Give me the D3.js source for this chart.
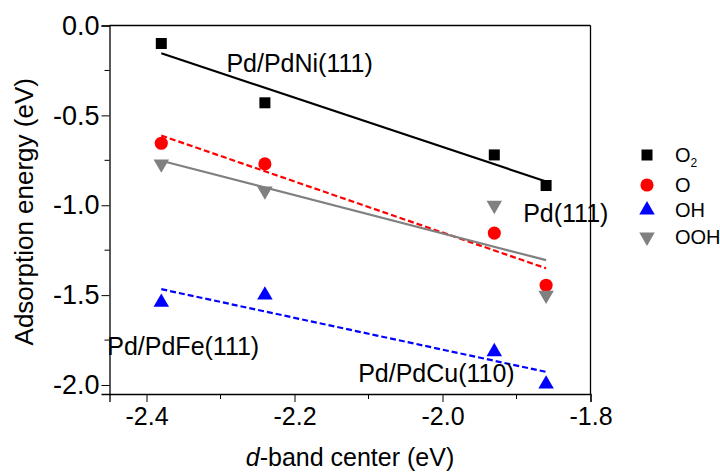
<!DOCTYPE html>
<html>
<head>
<meta charset="utf-8">
<script src="https://cdn.jsdelivr.net/npm/d3@7"></script>
<style>
  body { margin: 0; background: #fff; }
  svg { display: block; font-family: Arial, "Liberation Sans", sans-serif; }
</style>
</head>
<body>
<svg id="chart" width="720" height="472"></svg>
<script>
// ---- data ----
const dBand = [-2.38, -2.24, -1.93, -1.86];
const seriesNames = ["O2", "O", "OH", "OOH"];
const O2  = [-0.10, -0.43, -0.72, -0.89];
const O   = [-0.655, -0.77, -1.155, -1.445];
const OH  = [-1.54, -1.50, -1.815, -1.995];
const OOH = [-0.77, -0.92, -1.00, -1.50];
const xTicks = [-2.4, -2.2, -2.0, -1.8];
const yTicks = [0.0, -0.5, -1.0, -1.5, -2.0];
const annotations = [
  { text: "Pd/PdNi(111)", x: -2.292, y: -0.259 },
  { text: "Pd(111)", x: -1.891, y: -1.092 },
  { text: "Pd/PdFe(111)", x: -2.453, y: -1.833 },
  { text: "Pd/PdCu(110)", x: -2.114, y: -1.982 }
];

const svg = d3.select("#chart");
const x = d3.scaleLinear().domain([-2.45, -1.8]).range([109.5, 590.5]);
const y = d3.scaleLinear().domain([-2.05, 0]).range([394, 25.5]);

const styles = {
  O2:  { color: "#000000", symbol: d3.symbolSquare, size: 121, rot: 0, dash: null },
  O:   { color: "#ff0000", symbol: d3.symbolCircle, size: 135, rot: 0, dash: "6,3" },
  OH:  { color: "#0000ff", symbol: d3.symbolTriangle, size: 104, rot: 0, dash: "6,3" },
  OOH: { color: "#808080", symbol: d3.symbolTriangle, size: 104, rot: 180, dash: null }
};
const dataMap = { O2, O, OH, OOH };
const fmt = d => d3.format(".1f")(d).replace("\u2212", "-");

// ---- axes ----
const gx = svg.append("g").attr("transform", `translate(0,${y.range()[0]})`);
gx.call(d3.axisBottom(x).tickValues(xTicks).tickSize(8).tickPadding(5).tickFormat(fmt));
const minorX = [-2.3, -2.1, -1.9];
gx.selectAll(".minor").data(minorX).enter().append("line")
  .attr("x1", d => x(d)).attr("x2", d => x(d)).attr("y1", 0).attr("y2", 5)
  .attr("stroke", "#000").attr("stroke-width", 1);

const gy = svg.append("g").attr("transform", `translate(${x.range()[0]},0)`);
gy.call(d3.axisLeft(y).tickValues(yTicks).tickSize(8).tickPadding(2).tickFormat(fmt));
const minorY = [-0.25, -0.75, -1.25, -1.75];
gy.selectAll(".minor").data(minorY).enter().append("line")
  .attr("y1", d => y(d)).attr("y2", d => y(d)).attr("x1", 0).attr("x2", -5)
  .attr("stroke", "#000").attr("stroke-width", 1);

[gx, gy].forEach(g => {
  g.select(".domain").attr("stroke", "#000").attr("stroke-width", 1.3);
  g.selectAll(".tick line").attr("stroke", "#000").attr("stroke-width", 1);
  g.selectAll(".tick text").attr("fill", "#000")
    .attr("font-family", "Arial, 'Liberation Sans', sans-serif");
});
gx.selectAll(".tick text").attr("font-size", 25);
gy.selectAll(".tick text").attr("font-size", 27);

// frame top / right
svg.append("line").attr("x1", x.range()[0]).attr("x2", x.range()[1]).attr("y1", y.range()[1]).attr("y2", y.range()[1])
  .attr("stroke", "#000").attr("stroke-width", 1.3);
svg.append("line").attr("x1", x.range()[1]).attr("x2", x.range()[1]).attr("y1", y.range()[1]).attr("y2", y.range()[0])
  .attr("stroke", "#000").attr("stroke-width", 1.3);

// ---- linear fits (least squares through each series) ----
function fit(xs, ys) {
  const mx = d3.mean(xs), my = d3.mean(ys);
  const sxy = d3.sum(xs, (v, i) => (v - mx) * (ys[i] - my));
  const sxx = d3.sum(xs, v => (v - mx) * (v - mx));
  const b = sxy / sxx, a = my - b * mx;
  return v => a + b * v;
}
const lineGen = d3.line().x(d => x(d[0])).y(d => y(d[1]));
const drawOrder = ["OH", "O", "OOH", "O2"];
drawOrder.forEach(name => {
  const f = fit(dBand, dataMap[name]);
  const ext = d3.extent(dBand);
  svg.append("path")
    .attr("d", lineGen([[ext[0], f(ext[0])], [ext[1], f(ext[1])]]))
    .attr("fill", "none")
    .attr("stroke", styles[name].color)
    .attr("stroke-width", 2.2)
    .attr("stroke-dasharray", styles[name].dash);
});

// ---- markers ----
drawOrder.forEach(name => {
  const s = styles[name];
  svg.append("g").selectAll("path").data(dBand.map((d, i) => [d, dataMap[name][i]])).enter()
    .append("path")
    .attr("d", d3.symbol().type(s.symbol).size(s.size))
    .attr("transform", d => `translate(${x(d[0])},${y(d[1])}) rotate(${s.rot})`)
    .attr("fill", s.color);
});

// ---- annotations ----
svg.append("g").selectAll("text").data(annotations).enter().append("text")
  .attr("x", d => x(d.x)).attr("y", d => y(d.y))
  .attr("font-size", 25).attr("fill", "#000")
  .text(d => d.text);

// ---- axis titles ----
svg.append("text")
  .attr("transform", `translate(33,${(y.range()[0] + y.range()[1]) / 2 + 2}) rotate(-90)`)
  .attr("text-anchor", "middle").attr("font-size", 26).attr("fill", "#000")
  .text("Adsorption energy (eV)");
const xt = svg.append("text")
  .attr("x", (x.range()[0] + x.range()[1]) / 2).attr("y", 466)
  .attr("text-anchor", "middle").attr("font-size", 25).attr("fill", "#000");
xt.append("tspan").attr("font-style", "italic").text("d");
xt.append("tspan").text("-band center (eV)");

// ---- legend ----
const legendY = [155, 185, 210, 237];
const legend = svg.append("g");
seriesNames.forEach((name, i) => {
  const s = styles[name];
  legend.append("path")
    .attr("d", d3.symbol().type(s.symbol).size(s.size))
    .attr("transform", `translate(647,${legendY[i]}) rotate(${s.rot})`)
    .attr("fill", s.color);
  const t = legend.append("text").attr("x", 675).attr("y", legendY[i] + 7)
    .attr("font-size", 20).attr("fill", "#000");
  if (name === "O2") {
    t.append("tspan").text("O");
    t.append("tspan").attr("font-size", 12).attr("dy", 5).text("2");
  } else {
    t.text(name);
  }
});
</script>
</body>
</html>
